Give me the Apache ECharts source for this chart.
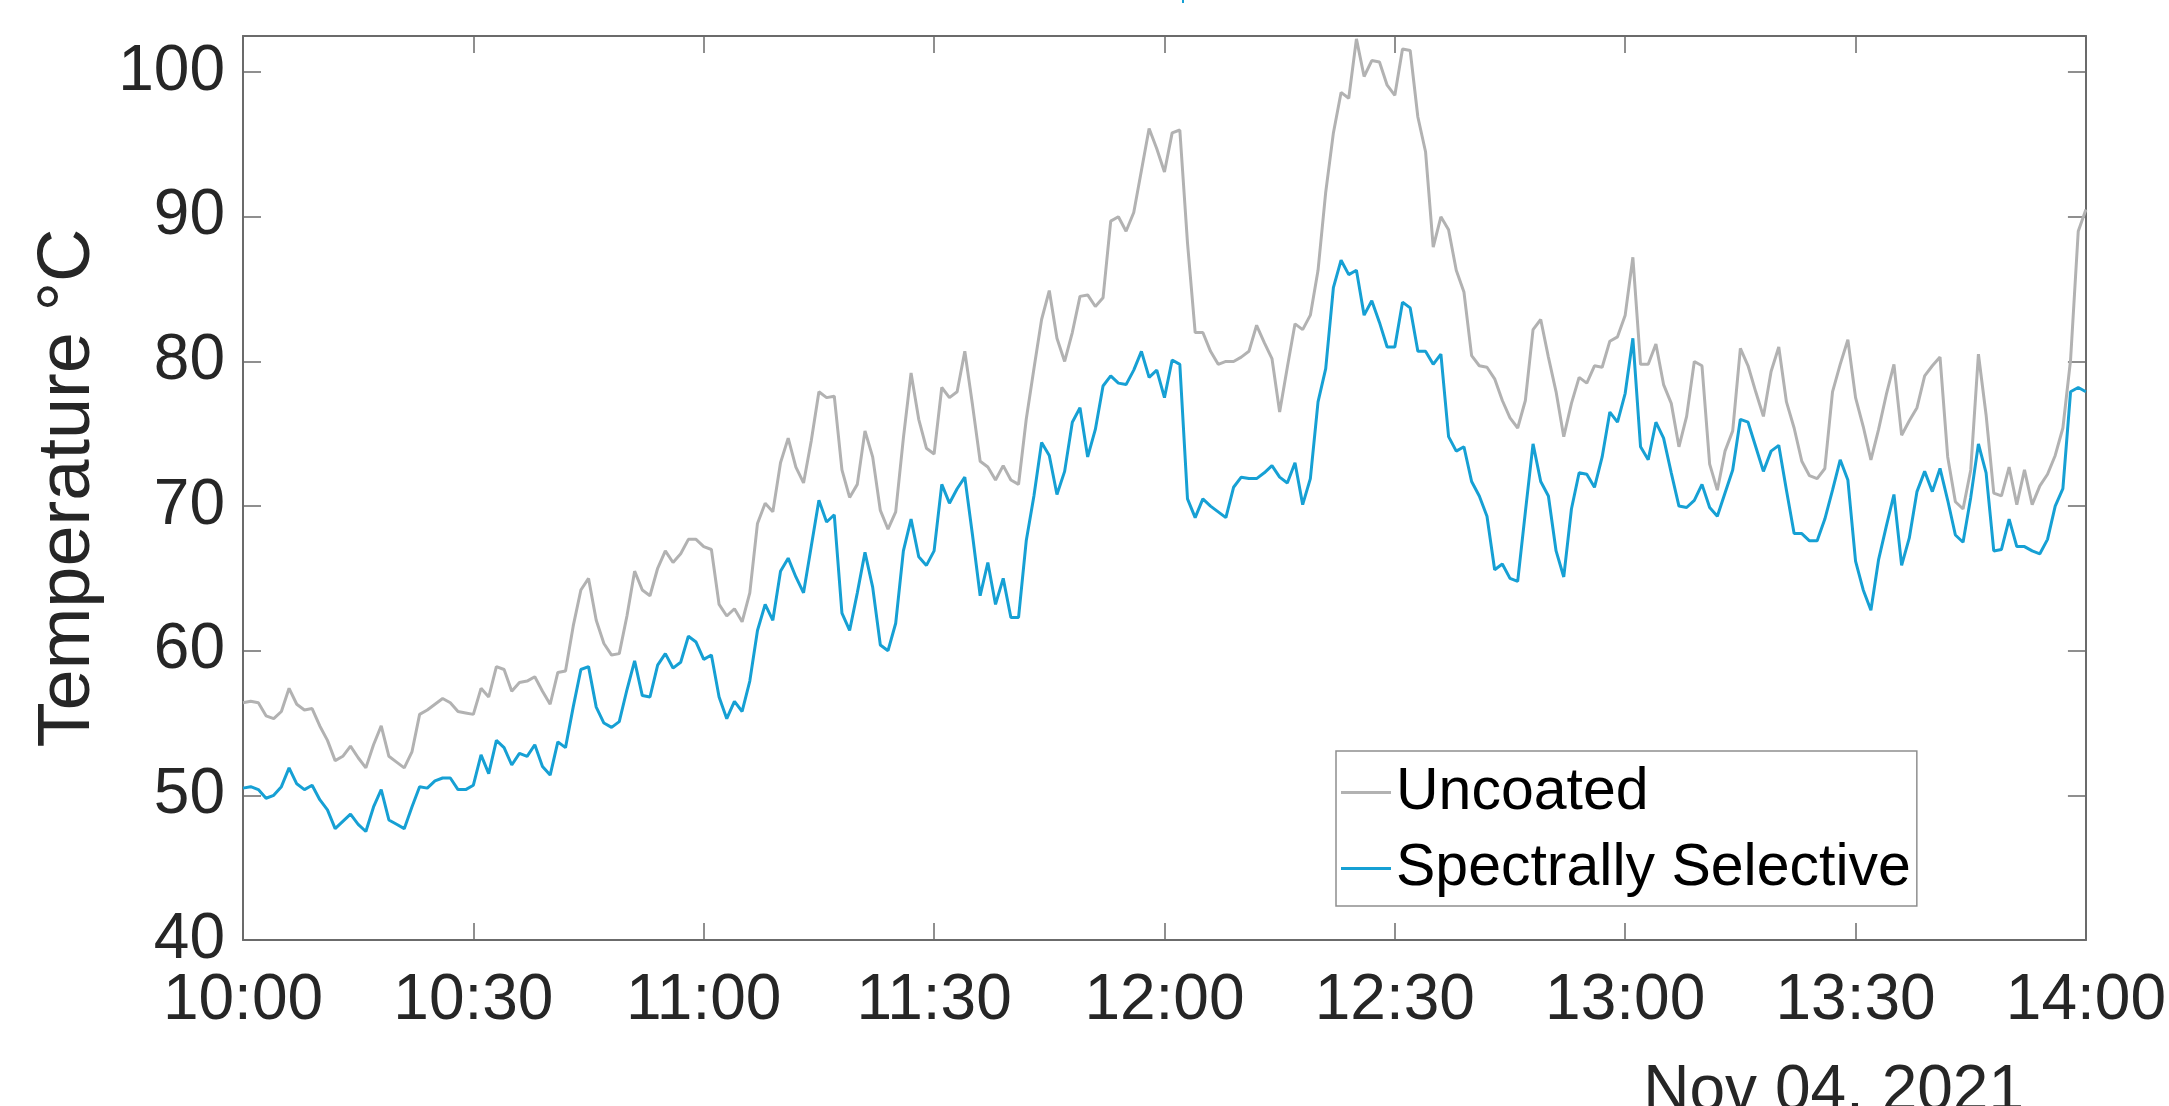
<!DOCTYPE html>
<html>
<head>
<meta charset="utf-8">
<script src="https://cdn.jsdelivr.net/npm/echarts@6/dist/echarts.min.js"></script>
<style>
html,body{margin:0;padding:0;background:#fff;}
#chart{width:2169px;height:1106px;}
</style>
</head>
<body>
<div id="chart"></div>
<script>
// Minutes after 10:00 on Nov 04, 2021 (one reading per minute, index = minute)
const seriesNames = ['Uncoated', 'Spectrally Selective'];
const uncoated = [
56.4,56.5,56.4,55.5,55.3,55.8,57.4,56.3,55.9,56.0,54.8,53.8,52.4,52.7,53.4,52.6,51.9,53.5,54.8,52.7,52.3,51.9,53.0,55.6,55.9,56.3,56.7,56.4,55.8,55.7,55.6,
57.4,56.8,58.9,58.7,57.2,57.8,57.9,58.2,57.2,56.3,58.5,58.6,61.7,64.2,65.0,62.1,60.5,59.7,59.8,62.4,65.5,64.2,63.8,65.7,66.9,66.1,66.7,67.7,67.7,67.2,
67.0,63.2,62.4,62.9,62.0,64.0,68.8,70.2,69.6,73.0,74.7,72.7,71.6,74.5,77.9,77.5,77.6,72.5,70.6,71.5,75.2,73.4,69.7,68.4,69.6,74.7,79.2,76.0,74.0,73.6,
78.2,77.5,77.9,80.7,77.0,73.1,72.7,71.8,72.8,71.8,71.5,76.0,79.5,82.9,84.9,81.6,80.0,82.0,84.5,84.6,83.8,84.4,89.7,90.0,89.0,90.3,93.2,96.1,94.7,93.1,
95.8,96.0,88.2,82.0,82.0,80.7,79.8,80.0,80.0,80.3,80.7,82.5,81.3,80.2,76.5,79.6,82.6,82.2,83.2,86.3,91.7,95.8,98.6,98.2,102.3,99.7,100.8,100.7,99.1,98.4,
101.6,101.5,96.9,94.5,87.9,90.0,89.1,86.3,84.8,80.4,79.7,79.6,78.8,77.3,76.1,75.4,77.3,82.2,82.9,80.3,77.9,74.8,77.1,78.9,78.5,79.7,79.6,81.4,81.7,83.2,
87.2,79.8,79.8,81.2,78.4,77.1,74.1,76.2,80.0,79.7,72.9,71.1,73.8,75.2,80.9,79.7,77.9,76.2,79.3,81.0,77.2,75.4,73.1,72.1,71.9,72.6,77.9,79.8,81.5,77.5,
75.5,73.2,75.3,77.7,79.8,74.9,75.9,76.8,79.0,79.7,80.3,73.4,70.3,69.8,72.5,80.5,76.3,70.9,70.7,72.7,70.1,72.5,70.1,71.4,72.2,73.5,75.4,80.1,89.0,90.5
];
const selective = [
50.5,50.6,50.4,49.8,50.0,50.6,51.9,50.8,50.4,50.7,49.7,49.0,47.7,48.2,48.7,48.0,47.5,49.2,50.4,48.3,48.0,47.7,49.2,50.6,50.5,51.0,51.2,51.2,50.4,50.4,50.7,
52.8,51.5,53.8,53.3,52.1,52.9,52.7,53.5,52.0,51.4,53.7,53.3,56.1,58.7,58.9,56.1,55.0,54.7,55.1,57.3,59.3,56.9,56.8,59.0,59.8,58.8,59.2,61.0,60.6,59.4,
59.7,56.8,55.3,56.5,55.8,57.9,61.4,63.2,62.1,65.5,66.4,65.1,64.0,67.2,70.4,68.9,69.4,62.6,61.4,64.0,66.8,64.4,60.4,60.0,61.9,66.9,69.1,66.5,65.9,66.9,
71.5,70.2,71.2,72.0,68.0,63.8,66.1,63.2,65.0,62.3,62.3,67.6,70.7,74.4,73.5,70.8,72.4,75.8,76.8,73.4,75.3,78.3,79.0,78.5,78.4,79.4,80.7,78.9,79.4,77.5,
80.1,79.8,70.5,69.2,70.5,70.0,69.6,69.2,71.3,72.0,71.9,71.9,72.3,72.8,72.0,71.6,73.0,70.1,71.9,77.2,79.5,85.1,87.0,86.0,86.3,83.2,84.2,82.7,81.0,81.0,
84.1,83.7,80.7,80.7,79.8,80.5,74.8,73.8,74.1,71.7,70.7,69.3,65.6,66.0,65.0,64.8,69.6,74.3,71.7,70.7,66.9,65.1,69.8,72.3,72.2,71.3,73.4,76.5,75.8,77.8,
81.6,74.1,73.2,75.8,74.7,72.3,70.0,69.9,70.4,71.5,69.9,69.3,70.9,72.5,76.0,75.8,74.1,72.4,73.8,74.2,71.1,68.1,68.1,67.6,67.6,69.1,71.1,73.2,71.8,66.2,
64.2,62.8,66.3,68.6,70.8,65.9,67.8,71.0,72.4,71.0,72.6,70.4,68.0,67.5,70.6,74.3,72.3,66.9,67.0,69.1,67.2,67.2,66.9,66.7,67.7,70.0,71.2,77.9,78.2,77.9
];
const xTickLabels = ['10:00','10:30','11:00','11:30','12:00','12:30','13:00','13:30','14:00'];
const yTicks = [40, 50, 60, 70, 80, 90, 100];
const yTitle = 'Temperature \u00B0C';
const dateLabel = 'Nov 04, 2021';

const FONT = '"Liberation Sans", Arial, Helvetica, sans-serif';
const AX = '#6b6b6b';
const TXT = '#262626';
const GRAY = '#b2b2b2';
const BLUE = '#16a0d4';

const toPairs = arr => arr.map((v, i) => [i, v]);

const xBase = {
  type: 'value', min: 0, max: 240, interval: 30,
  axisLine: { show: true, onZero: false, lineStyle: { color: AX, width: 2 } },
  axisTick: { show: true, inside: true, length: 17, lineStyle: { color: AX, width: 1.5 } },
  splitLine: { show: false }
};
const yBase = {
  type: 'value', min: 40, max: 102.5, interval: 10,
  axisLine: { show: true, onZero: false, lineStyle: { color: AX, width: 2 } },
  axisTick: { show: true, inside: true, length: 18, lineStyle: { color: AX, width: 1.5 } },
  splitLine: { show: false }
};

const chart = echarts.init(document.getElementById('chart'), null, { renderer: 'canvas' });
chart.setOption({
  animation: false,
  backgroundColor: '#fff',
  grid: { left: 243, right: 81, top: 36, bottom: 166, containLabel: false },
  xAxis: [
    Object.assign({}, xBase, {
      position: 'bottom',
      axisLabel: {
        show: true, margin: 61, verticalAlign: 'middle', lineHeight: 64,
        fontFamily: FONT, fontSize: 64, color: TXT,
        formatter: v => xTickLabels[Math.round(v / 30)] || ''
      }
    }),
    Object.assign({}, xBase, { position: 'top', axisLabel: { show: false } })
  ],
  yAxis: [
    Object.assign({}, yBase, {
      position: 'left',
      name: yTitle, nameLocation: 'middle', nameGap: 137, nameRotate: 90,
      nameTextStyle: { fontFamily: FONT, fontSize: 74, color: TXT },
      axisLabel: {
        show: true, margin: 18, fontFamily: FONT, fontSize: 64, color: TXT,
        showMaxLabel: false,
        formatter: v => (yTicks.indexOf(v) >= 0 ? String(v) : '')
      }
    }),
    Object.assign({}, yBase, { position: 'right', axisLabel: { show: false } })
  ],
  legend: {
    show: true, orient: 'vertical', left: 1336, top: 751,
    data: seriesNames,
    icon: 'rect', itemWidth: 50, itemHeight: 3, itemGap: 17,
    padding: [12, 6, 8, 5],
    backgroundColor: '#fff', borderColor: '#8f8f8f', borderWidth: 1.5,
    textStyle: { fontFamily: FONT, fontSize: 59, lineHeight: 58, color: '#000' }
  },
  graphic: [
    { type: 'text', x: 2024, y: 1092,
      style: { text: dateLabel, x: 0, y: 0, align: 'right', verticalAlign: 'middle',
               font: '64px ' + FONT, fill: TXT } },
    { type: 'rect', x: 1182, y: 0, shape: { width: 2, height: 3 }, style: { fill: BLUE } }
  ],
  series: [
    { name: seriesNames[0], type: 'line', xAxisIndex: 0, yAxisIndex: 0,
      data: toPairs(uncoated), symbol: 'none', showSymbol: false,
      lineStyle: { color: GRAY, width: 3 }, itemStyle: { color: GRAY }, z: 2 },
    { name: seriesNames[1], type: 'line', xAxisIndex: 0, yAxisIndex: 0,
      data: toPairs(selective), symbol: 'none', showSymbol: false,
      lineStyle: { color: BLUE, width: 3 }, itemStyle: { color: BLUE }, z: 3 }
  ]
});
</script>
</body>
</html>
